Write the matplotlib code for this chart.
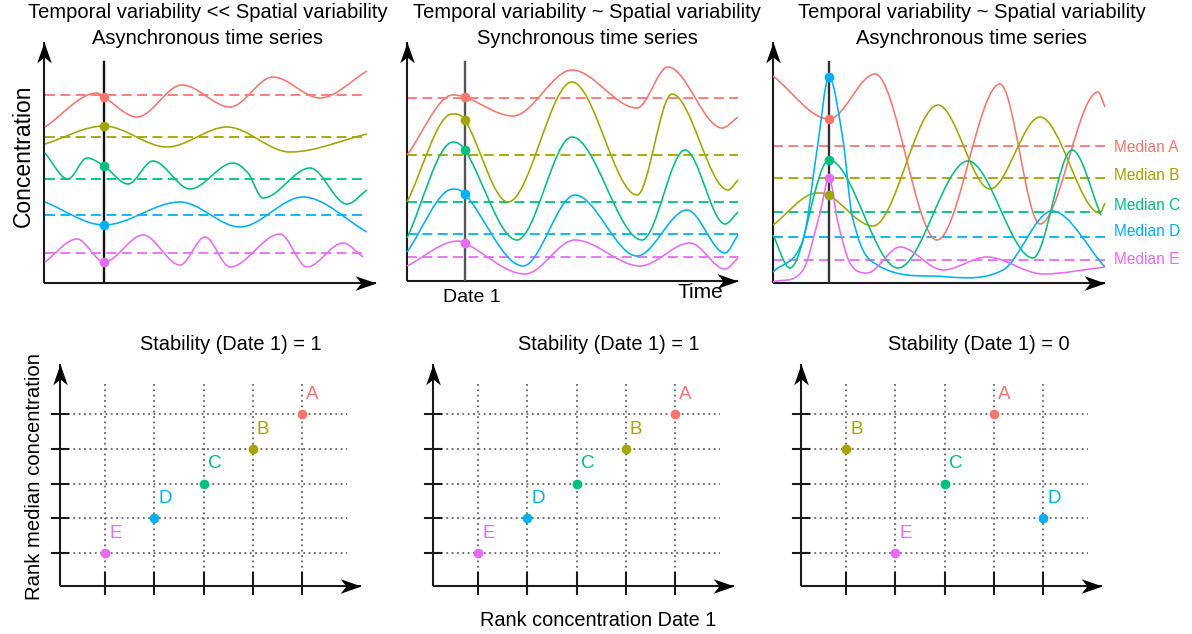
import matplotlib

matplotlib.use("Agg")
import matplotlib.pyplot as plt
from matplotlib.path import Path
from matplotlib.patches import PathPatch

plt.rcParams["font.family"] = ["Liberation Sans", "DejaVu Sans"]

FIG_W, FIG_H = 1192, 634
SERIES = ["A", "B", "C", "D", "E"]
COLORS = ["#F8766D", "#A3A500", "#00BF7D", "#00B0F6", "#E76BF3"]
AXIS_C = "#1a1a1a"

# ---- top row: time series, knots are (time, concentration)
P1_DATE = 60
P1_A = [(1, 156), (53, 190), (60, 186), (93, 166), (138, 198), (186, 176), (229, 206), (276, 185), (323, 212)]
P1_B = [(1, 139), (60, 157), (123, 136), (183, 156), (246, 131), (323, 149)]
P1_C = [(1, 130), (24, 104), (43, 125), (60, 117), (84, 99), (109, 122), (146, 94), (189, 120),
        (204, 110), (219, 85), (266, 115), (303, 79), (323, 93)]
P1_D = [(1, 81), (60, 58), (136, 81), (196, 56), (259, 86), (323, 51)]
P1_E = [(1, 21), (33, 44), (60, 21), (99, 48), (136, 18), (161, 46), (186, 16), (236, 49),
        (263, 16), (299, 40), (319, 26)]
P1_MEDIAN = [188, 146, 104, 68, 30]

P2_DATE = 58
P2_A = [(0, 126), (46, 186), (58, 184), (106, 165), (165, 211), (230, 173), (261, 214), (315, 153), (331, 164)]
P2_B = [(0, 79), (45, 167), (58, 161), (101, 79), (165, 199), (230, 86), (265, 187), (321, 91), (331, 101)]
P2_C = [(0, 43), (46, 139), (58, 131), (110, 41), (165, 144), (235, 41), (278, 131), (318, 57), (331, 69)]
P2_D = [(0, 29), (46, 92), (58, 87), (116, 15), (168, 86), (230, 25), (280, 71), (318, 28), (331, 46)]
P2_E = [(0, 15), (51, 40), (58, 38), (118, 7), (168, 41), (233, 15), (283, 38), (318, 12), (331, 23)]
P2_MEDIAN = [183, 126, 79, 47, 24]

P3_DATE = 56
P3_A = [(0, 207), (56, 164), (102, 209), (164, 43), (227, 199), (267, 59), (325, 191), (332, 176)]
P3_B = [(0, 58), (44, 90), (56, 88), (100, 57), (165, 178), (217, 94), (267, 166), (327, 70), (332, 80)]
P3_C = [(0, 48), (17, 15), (56, 123), (125, 15), (195, 122), (260, 25), (299, 133), (328, 68)]
P3_D = [(0, 11), (30, 43), (44, 133), (56, 206), (70, 143), (79, 68), (97, 23), (157, 7),
        (230, 13), (279, 72), (332, 16)]
P3_E = [(0, 1), (30, 13), (47, 70), (56, 105), (65, 60), (77, 20), (94, 10), (127, 36),
        (170, 13), (214, 26), (270, 9), (332, 16)]
P3_MEDIAN = [137, 105, 71, 46, 23]

# ---- bottom row: ranks
RANK_DATE1 = [[5, 4, 3, 2, 1], [5, 4, 3, 2, 1], [4, 1, 3, 5, 2]]
RANK_MEDIAN = [[5, 4, 3, 2, 1], [5, 4, 3, 2, 1], [5, 4, 3, 2, 1]]
STABILITY = [1, 1, 0]


def px_axes(fig, x0, y0, w, h):
    """axes whose bottom-left corner sits at image pixel (x0, y0)"""
    return fig.add_axes([x0 / FIG_W, 1 - y0 / FIG_H, w / FIG_W, h / FIG_H])


def ftext(fig, x, y, s, **kw):
    fig.text(x / FIG_W, 1 - y / FIG_H, s, ha="center", va="center", **kw)


def smooth(knots):
    # cubic hermite through the knots, flat at turning points, as bezier path
    xs = [k[0] for k in knots]
    ys = [k[1] for k in knots]
    n = len(knots)
    m = []
    for i in range(n):
        if i == 0:
            m.append((ys[1] - ys[0]) / (xs[1] - xs[0]))
        elif i == n - 1:
            m.append((ys[-1] - ys[-2]) / (xs[-1] - xs[-2]))
        elif (ys[i] - ys[i - 1]) * (ys[i + 1] - ys[i]) <= 0:
            m.append(0.0)
        else:
            m.append((ys[i + 1] - ys[i - 1]) / (xs[i + 1] - xs[i - 1]))
    verts, codes = [(xs[0], ys[0])], [Path.MOVETO]
    for i in range(n - 1):
        h = xs[i + 1] - xs[i]
        verts += [(xs[i] + h / 3, ys[i] + m[i] * h / 3),
                  (xs[i + 1] - h / 3, ys[i + 1] - m[i + 1] * h / 3),
                  (xs[i + 1], ys[i + 1])]
        codes += [Path.CURVE4] * 3
    return Path(verts, codes)


HEAD_R = Path([(0, 0), (-2, 0.7), (-1.45, 0), (-2, -0.7), (0, 0)], closed=True)
HEAD_U = Path([(0, 0), (-0.7, -2), (0, -1.45), (0.7, -2), (0, 0)], closed=True)


def axis_arrows(ax, x0, y0, x1, y1):
    ax.plot([x0, x1], [y0, y0], color=AXIS_C, lw=1.5, clip_on=False, solid_capstyle="butt")
    ax.plot([x0, x0], [y0, y1], color=AXIS_C, lw=1.5, clip_on=False, solid_capstyle="butt")
    ax.plot(x1, y0, marker=HEAD_R, ms=30, color="black", mew=0, clip_on=False, zorder=6)
    ax.plot(x0, y1, marker=HEAD_U, ms=30, color="black", mew=0, clip_on=False, zorder=6)


def series_panel(ax, w, h, curves, medians, t_date, date_top, date_c):
    ax.set_xlim(0, w)
    ax.set_ylim(0, h)
    ax.axis("off")
    axis_arrows(ax, 0, 0, w - 2, h - 2)
    ax.plot([t_date, t_date], [0, date_top], color=date_c, lw=1.7, zorder=3)
    for knots, med, col in zip(curves, medians, COLORS):
        ax.add_patch(PathPatch(smooth(knots), fill=False, ec=col, lw=1.15, zorder=2, clip_on=False))
        ax.plot([knots[0][0], knots[-1][0]], [med, med], color=col, lw=1.3, dashes=(5.5, 3), zorder=1)
        ax.plot(t_date, dict(knots)[t_date], "o", color=col, ms=7, mew=0, zorder=5)


def rank_panel(ax, rx, ry):
    ax.set_xlim(0.08, 6.24)
    ax.set_ylim(0.05, 6.5)
    ax.axis("off")
    for r in range(1, 6):
        ax.plot([r, r], [0.42, 5.92], color="#4d4d4d", lw=1.1, ls=(0, (1.2, 2.3)), zorder=1)
        ax.plot([0.24, 5.91], [r, r], color="#4d4d4d", lw=1.1, ls=(0, (1.2, 2.3)), zorder=1)
        ax.plot([r, r], [-0.18, 0.42], color=AXIS_C, lw=1.5, clip_on=False)
        ax.plot([-0.08, 0.24], [r, r], color=AXIS_C, lw=1.5, clip_on=False)
    axis_arrows(ax, 0.08, 0.05, 6.2, 6.45)
    for x, y, col, name in zip(rx, ry, COLORS, SERIES):
        ax.plot(x, y, "o", color=col, ms=7, mew=0, zorder=5)
        ax.annotate(name, (x, y), xytext=(3, 8), textcoords="offset points",
                    color=col, fontsize=13.5, ha="left", va="bottom")


fig = plt.figure(figsize=(FIG_W / 100, FIG_H / 100), dpi=100)

ax1 = px_axes(fig, 44, 283, 334, 243)
series_panel(ax1, 334, 243, [P1_A, P1_B, P1_C, P1_D, P1_E], P1_MEDIAN, P1_DATE, 221, "#111111")
ax2 = px_axes(fig, 407, 281, 333, 241)
series_panel(ax2, 333, 241, [P2_A, P2_B, P2_C, P2_D, P2_E], P2_MEDIAN, P2_DATE, 219, "#555555")
ax3 = px_axes(fig, 773, 283, 334, 243)
series_panel(ax3, 334, 243, [P3_A, P3_B, P3_C, P3_D, P3_E], P3_MEDIAN, P3_DATE, 221, "#333333")

for name, yc, col in zip(SERIES, [136, 107, 78, 51, 23], COLORS):
    ax3.text(341, yc, f"Median {name}", color=col, fontsize=11.2, ha="left", va="center", clip_on=False)

titles = [("Temporal variability << Spatial variability", "Asynchronous time series", 208),
          ("Temporal variability ~ Spatial variability", "Synchronous time series", 587),
          ("Temporal variability ~ Spatial variability", "Asynchronous time series", 972)]
for l1, l2, xc in titles:
    ftext(fig, xc, 13, l1, fontsize=14.5)
    ftext(fig, xc, 39, l2, fontsize=14.5)

ftext(fig, 23, 156, "Concentration", fontsize=16.5, rotation=90)
ftext(fig, 472, 297, "Date 1", fontsize=14)
ftext(fig, 700, 292, "Time", fontsize=15)

for i, x0 in enumerate([60, 433, 801]):
    ax = px_axes(fig, x0, 586, 303, 224)
    rank_panel(ax, RANK_DATE1[i], RANK_MEDIAN[i])

for xc, s in zip([231, 609, 979], STABILITY):
    ftext(fig, xc, 345, f"Stability (Date 1) = {s}", fontsize=14.4)

ftext(fig, 35, 477, "Rank median concentration", fontsize=14.6, rotation=90)
ftext(fig, 598, 621, "Rank concentration Date 1", fontsize=14.3)

fig.savefig("out.png", dpi=100, facecolor="white")
